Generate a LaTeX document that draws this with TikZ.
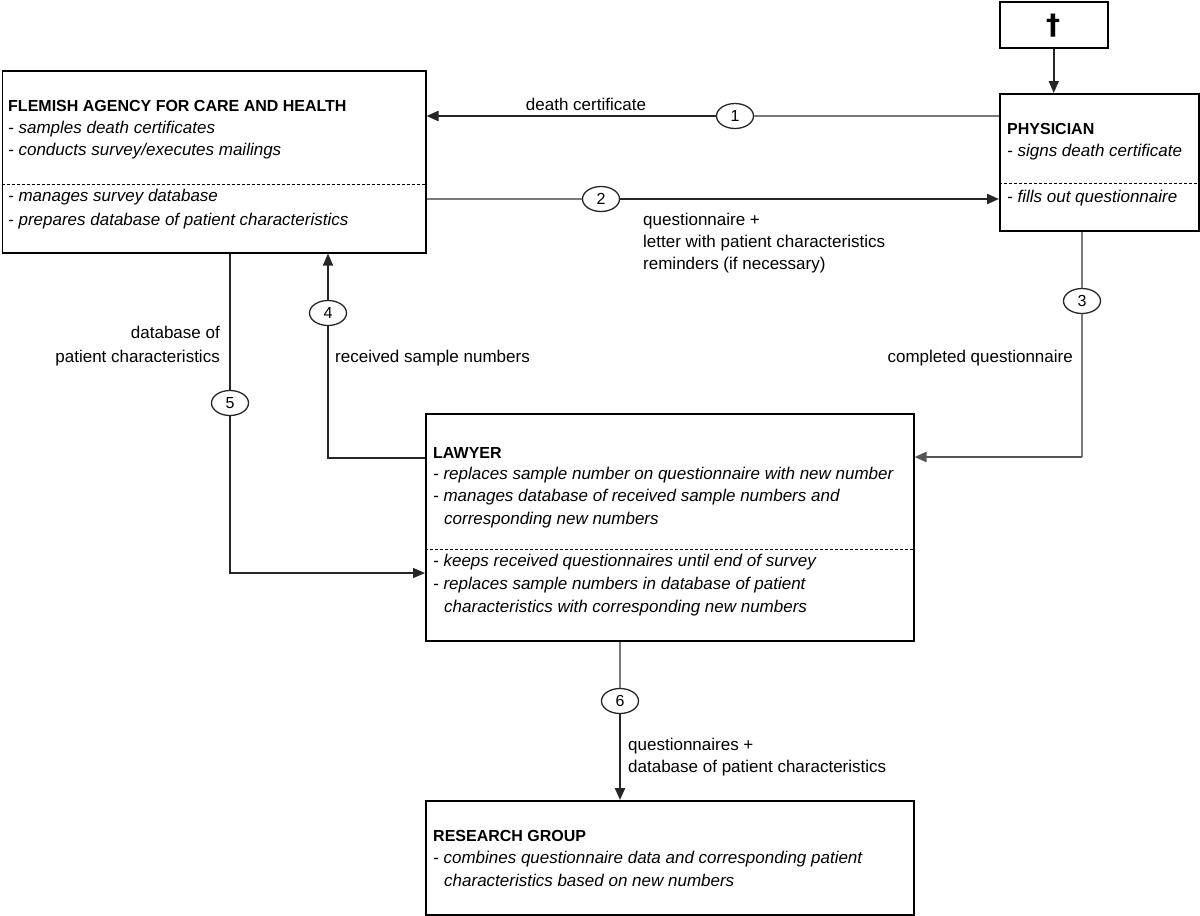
\documentclass[tikz,border=0pt]{standalone}
\usepackage{fontspec}
\setmainfont{Liberation Sans}
\newfontfamily\djvfont{DejaVu Sans}
\usetikzlibrary{arrows.meta,shapes.geometric}
\definecolor{tailgray}{HTML}{7A7A7A}
\definecolor{headdark}{HTML}{262626}
\begin{document}
\begin{tikzpicture}[x=1pt,y=-1pt,
  box/.style={draw=black,line width=1.5pt,fill=white,inner sep=0pt,anchor=north west},
  sep/.style={draw=black,line width=1pt,dash pattern=on 3pt off 2pt},
  txt/.style={anchor=base west,inner sep=0pt,font=\fontsize{17}{20}\selectfont},
  ttl/.style={anchor=base west,inner sep=0pt,font=\fontsize{16}{20}\selectfont\bfseries},
  itm/.style={anchor=base west,inner sep=0pt,font=\fontsize{17}{20}\selectfont\itshape},
  lblr/.style={anchor=base east,inner sep=0pt,font=\fontsize{17}{20}\selectfont},
  num/.style={ellipse,draw=headdark,line width=1.3pt,fill=white,minimum width=37pt,minimum height=25pt,inner sep=0pt,font=\fontsize{16}{16}\selectfont},
  tailline/.style={draw=tailgray,line width=2.2pt},
  headline/.style={draw=headdark,line width=2.2pt,-{Triangle[length=12pt,width=10pt]}},
  thinline/.style={draw=headdark,line width=1.4pt},
  thinhead/.style={draw=headdark,line width=1.4pt,-{Triangle[length=12pt,width=10pt]}}
]
\useasboundingbox[fill=white] (0,0) rectangle (1200,916);

% boxes
\node[box,minimum width=423.5pt,minimum height=182pt] (agency) at (1.5,70) {};
\node[box,minimum width=108pt,minimum height=46pt] (cross) at (999,1) {};
\node[box,minimum width=199pt,minimum height=137pt] (phys) at (999,93) {};
\node[box,minimum width=488pt,minimum height=227pt] (lawyer) at (425,413) {};
\node[box,minimum width=488pt,minimum height=114pt] (research) at (425,800) {};

% dashed separators
\coordinate (da) at (0,184);
\coordinate (dp) at (0,183);
\coordinate (dl) at (0,549);
\draw[sep] (agency.west |- da) -- (agency.east |- da);
\draw[sep] (phys.west |- dp) -- (phys.east |- dp);
\draw[sep] (lawyer.west |- dl) -- (lawyer.east |- dl);

% cross
\node[inner sep=0pt,font=\fontsize{28}{28}\selectfont\djvfont\bfseries] (dagger) at (1053,26) {†};

% agency text
\node[ttl] (a0) at (8,111) {FLEMISH AGENCY FOR CARE AND HEALTH};
\node[itm] (a1) at (8,133) {- samples death certificates};
\node[itm] (a2) at (8,155) {- conducts survey/executes mailings};
\node[itm] (a3) at (8,201) {- manages survey database};
\node[itm] (a4) at (8,225) {- prepares database of patient characteristics};

% physician text
\node[ttl] (p0) at (1007,134) {PHYSICIAN};
\node[itm] (p1) at (1007,156) {- signs death certificate};
\node[itm] (p2) at (1007,202) {- fills out questionnaire};

% lawyer text
\node[ttl] (l0) at (433,458) {LAWYER};
\node[itm] (l1) at (433,479) {- replaces sample number on questionnaire with new number};
\node[itm] (l2) at (433,501) {- manages database of received sample numbers and};
\node[itm] (l3) at (444,524) {corresponding new numbers};
\node[itm] (l4) at (433,566) {- keeps received questionnaires until end of survey};
\node[itm] (l5) at (433,589) {- replaces sample numbers in database of patient};
\node[itm] (l6) at (444,612) {characteristics with corresponding new numbers};

% research text
\node[ttl] (r0) at (433,841) {RESEARCH GROUP};
\node[itm] (r1) at (433,863) {- combines questionnaire data and corresponding patient};
\node[itm] (r2) at (444,886) {characteristics based on new numbers};

% number ellipses
\node[num] (c1) at (735,116) {1};
\node[num] (c2) at (601,199) {2};
\node[num] (c3) at (1082,301) {3};
\node[num] (c4) at (328,313) {4};
\node[num] (c5) at (230,403) {5};
\node[num] (c6) at (620,701) {6};

% bend points
\coordinate (k3) at (1082,457);
\coordinate (k4) at (328,458);
\coordinate (k5) at (230,573);

% connectors
\draw[headline,line width=1.6pt] (cross.south) -- (cross.south |- phys.north);

\draw[tailline] (phys.west |- c1) -- (c1);
\draw[headline] (c1) -- (c1 -| agency.east);

\draw[tailline] (agency.east |- c2) -- (c2);
\draw[headline] (c2) -- (c2 -| phys.west);

\draw[tailline] (c3 |- phys.south) -- (c3);
\draw[tailline] (c3) -- (k3);
\draw[headline,draw=tailgray!70!black] (k3) -- (k3 -| lawyer.east);

\draw[thinline] (k4 -| lawyer.west) -- (k4) -- (c4);
\draw[thinhead] (c4) -- (c4 |- agency.south);

\draw[thinline] (c5 |- agency.south) -- (c5);
\draw[thinhead] (c5) -- (k5) -- (k5 -| lawyer.west);

\draw[tailline] (c6 |- lawyer.south) -- (c6);
\draw[headline] (c6) -- (c6 |- research.north);

% labels
\node[txt,anchor=base] (t1) at (586,110) {death certificate};
\node[txt] (t2a) at (643,225) {questionnaire +};
\node[txt] (t2b) at (643,247) {letter with patient characteristics};
\node[txt] (t2c) at (643,269) {reminders (if necessary)};
\node[lblr] (t3) at (1073,362) {completed questionnaire};
\node[txt] (t4) at (335,362) {received sample numbers};
\node[lblr] (t5a) at (220,338) {database of};
\node[lblr] (t5b) at (220,362) {patient characteristics};
\node[txt] (t6a) at (628,750) {questionnaires +};
\node[txt] (t6b) at (628,772) {database of patient characteristics};
\end{tikzpicture}
\end{document}
